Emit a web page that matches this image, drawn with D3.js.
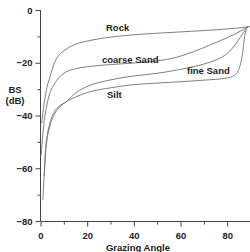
<!DOCTYPE html>
<html><head><meta charset="utf-8">
<script src="https://cdn.jsdelivr.net/npm/d3@7"></script>
<style>body{margin:0;background:#fff}svg{display:block}text{font-family:"Liberation Sans",Arial,sans-serif;font-weight:bold;fill:#222}</style>
</head><body><svg id="c" width="250" height="252"></svg>
<script>
const xTicks = [0, 20, 40, 60, 80];
const yTicks = [0, -20, -40, -60, -80];
const rockAngle = [0.5,1,2,3,4,6,8,10,15,20,30,40,50,60,70,80,85,88,90];
const rockDB    = [-43,-39,-33,-28.5,-25.5,-20,-17,-15.5,-13,-11.8,-10.3,-9.4,-8.8,-8.3,-7.8,-7.2,-6.8,-6.5,-6.3];
const coarseAngle = [0.3,1,2,3,4,5,6,8,10,15,20,30,40,50,58,65,72,80,86.5,89];
const coarseDB    = [-55,-47,-39.5,-35,-31.5,-29.5,-28,-25.5,-24,-22.3,-21.5,-20.7,-20.1,-19.3,-18,-16,-13.5,-10.5,-7.6,-6.2];
const fineAngle = [1.6,2,3,4,6,8,11,15,20,30,40,50,60,70,75,80,84,87,89];
const fineDB    = [-63,-55,-47,-43,-38.5,-36.5,-34.8,-31.5,-29,-26.5,-25,-24,-22.5,-20.5,-19,-16.5,-12.5,-8.5,-6.3];
const siltAngle = [1,1.5,2.3,3,4,6,8,11,15,20,30,40,50,60,70,80,83,85,86.5,87.5,88.5];
const siltDB    = [-72,-64,-53,-48,-44,-39.5,-37,-34.8,-33,-31.3,-29.5,-28.3,-27.7,-27.2,-26.6,-25.8,-24.8,-22.5,-17,-10,-6.5];
const seriesNames = ["Rock","coarse Sand","fine Sand","Silt"];

const svg = d3.select("#c");
const x = d3.scaleLinear().domain([0, 90]).range([40.5, 250.5]);
const y = d3.scaleLinear().domain([-80, 0]).range([221, 10]);

const axisColor = "#444";
// y axis
const yAxis = d3.axisLeft(y).tickValues(yTicks).tickSize(5).tickPadding(3).tickFormat(d3.format("d"));
const gy = svg.append("g").attr("transform","translate(40.5,0)").call(yAxis);
gy.select(".domain").attr("d","M0,10V221").attr("stroke",axisColor);
gy.selectAll(".tick line").attr("stroke",axisColor);
gy.selectAll("text").style("font-size","9.5px").attr("fill","#222");
const yMinor = d3.axisLeft(y).tickValues([-10,-30,-50,-70]).tickSize(3).tickFormat("");
const gym = svg.append("g").attr("transform","translate(40.5,0)").call(yMinor);
gym.select(".domain").remove(); gym.selectAll("line").attr("stroke",axisColor);

// x axis
const xAxis = d3.axisBottom(x).tickValues(xTicks).tickSize(5).tickPadding(6).tickFormat(d3.format("d"));
const gx = svg.append("g").attr("transform","translate(0,221.5)").call(xAxis);
gx.select(".domain").attr("d","M40.5,0H250").attr("stroke",axisColor);
gx.selectAll(".tick line").attr("stroke",axisColor);
gx.selectAll("text").style("font-size","9.5px").attr("fill","#222");
const xMinor = d3.axisBottom(x).tickValues([10,30,50,70]).tickSize(3).tickFormat("");
const gxm = svg.append("g").attr("transform","translate(0,221.5)").call(xMinor);
gxm.select(".domain").remove(); gxm.selectAll("line").attr("stroke",axisColor);

// curves
const lineGen = d3.line().x(d=>x(d[0])).y(d=>y(d[1])).curve(d3.curveMonotoneX);
const series = [[rockAngle,rockDB],[coarseAngle,coarseDB],[fineAngle,fineDB],[siltAngle,siltDB]];
series.forEach(([a,v])=>{
  svg.append("path").datum(a.map((d,i)=>[d,v[i]])).attr("d",lineGen)
    .attr("fill","none").attr("stroke","#707070").attr("stroke-width",0.9);
});

// labels
const lab = [[106,31],[102,63],[187,74],[107,98]];
seriesNames.forEach((n,i)=>{
  svg.append("text").attr("x",lab[i][0]).attr("y",lab[i][1]).style("font-size","9.5px").text(n);
});
svg.append("text").attr("x",15).attr("y",93).attr("text-anchor","middle").style("font-size","9.5px").text("BS");
svg.append("text").attr("x",15).attr("y",104).attr("text-anchor","middle").style("font-size","9.5px").text("(dB)");
svg.append("text").attr("x",138).attr("y",251).attr("text-anchor","middle").style("font-size","9.5px").text("Grazing Angle");
</script></body></html>
